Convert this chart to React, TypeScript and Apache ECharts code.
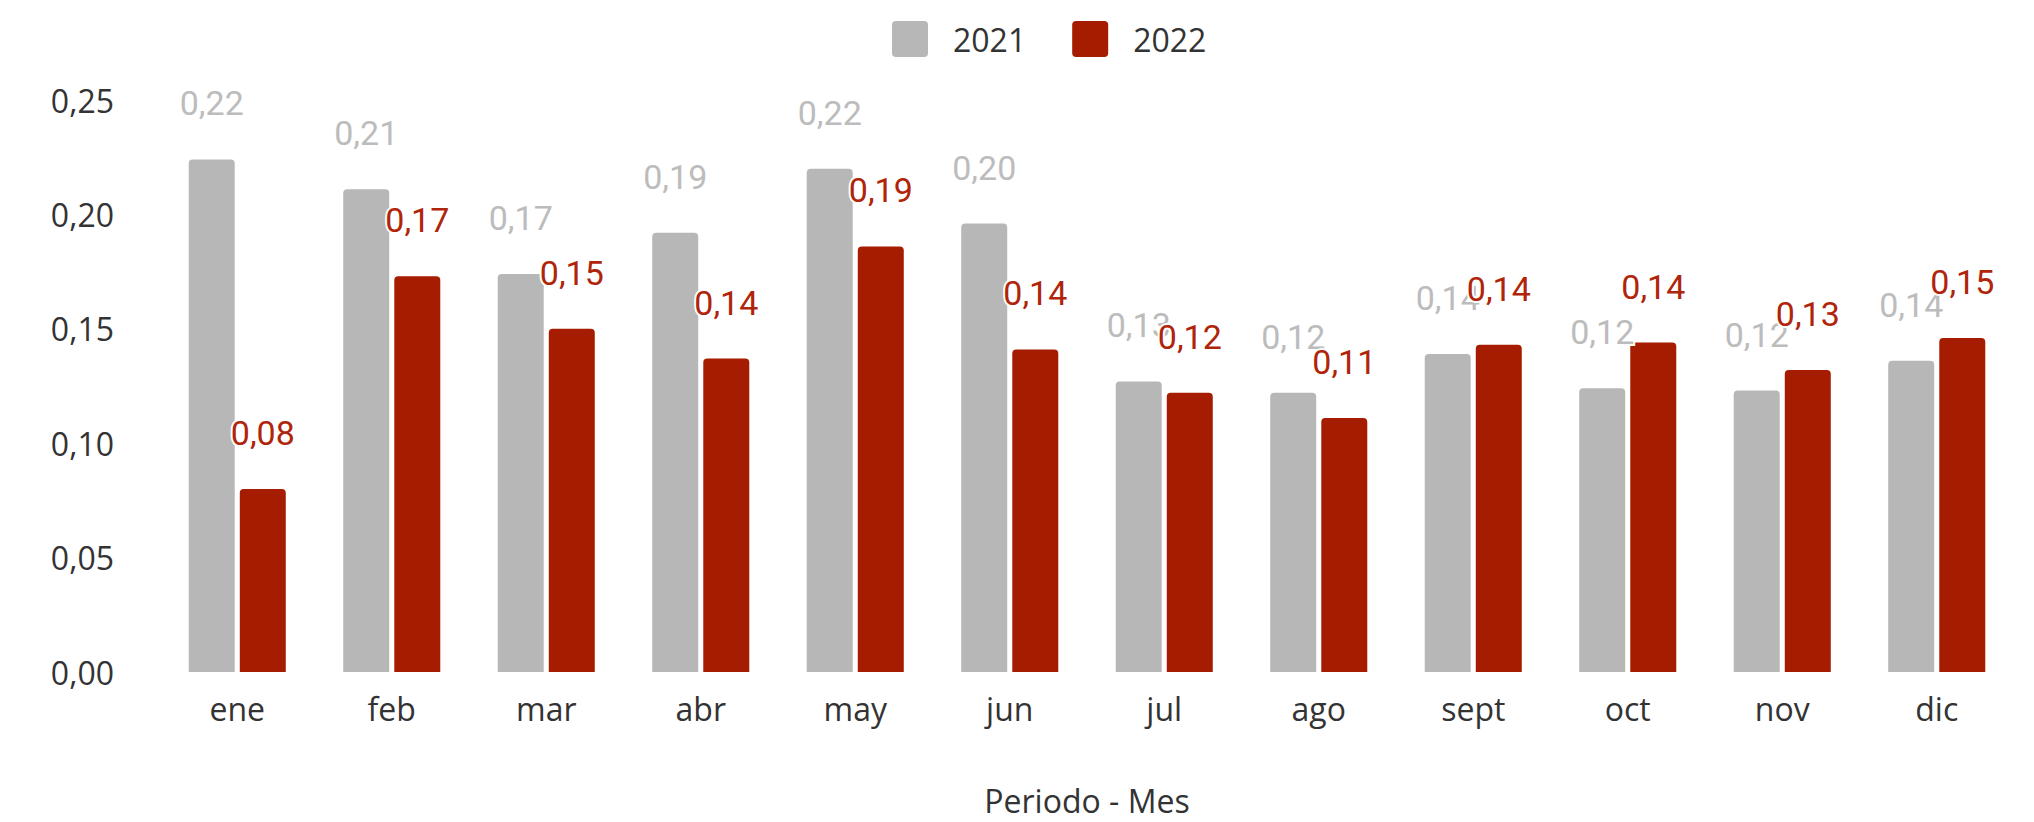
import React, { useEffect, useRef } from "react";
import * as echarts from "echarts";

const categories = ["ene", "feb", "mar", "abr", "may", "jun", "jul", "ago", "sept", "oct", "nov", "dic"];
const values2021 = [0.224, 0.211, 0.174, 0.192, 0.22, 0.196, 0.127, 0.122, 0.139, 0.124, 0.123, 0.136];
const values2022 = [0.08, 0.173, 0.15, 0.137, 0.186, 0.141, 0.122, 0.111, 0.143, 0.144, 0.132, 0.146];
const seriesNames = ["2021", "2022"];

const GRAY = "#b7b7b7";
const RED = "#a51c00";
const fmt = (v: number) => v.toFixed(2).replace(".", ",");
const legendIcon =
  "path://M4,0H32A4,4,0,0,1,36,4V32A4,4,0,0,1,32,36H4A4,4,0,0,1,0,32V4A4,4,0,0,1,4,0Z";

export default function App() {
  const ref = useRef<HTMLDivElement>(null);
  useEffect(() => {
    if (!ref.current) return;
    const chart = echarts.init(ref.current, null, { renderer: "svg" });
    const labelCommon = {
      show: true,
      position: "top",
      distance: 39,
      fontFamily: "Roboto",
      fontSize: 34,
      textBorderColor: "#ffffff",
      textBorderWidth: 4,
      formatter: (p: any) => fmt(p.value),
    };
    chart.setOption({
      animation: false,
      backgroundColor: "#ffffff",
      textStyle: { fontFamily: "Open Sans" },
      grid: { left: 160, right: 20, top: 100, bottom: 150, containLabel: false },
      legend: {
        left: 887,
        top: 16,
        itemWidth: 36,
        itemHeight: 36,
        itemGap: 46,
        icon: legendIcon,
        textStyle: { fontSize: 32, color: "#333333", fontFamily: "Open Sans", padding: [0, 0, 0, 20] },
        data: seriesNames,
      },
      xAxis: {
        type: "category",
        data: categories,
        axisLine: { show: false },
        axisTick: { show: false },
        axisLabel: { fontSize: 32, color: "#333333", margin: 20, fontFamily: "Open Sans" },
        name: "Periodo - Mes",
        nameLocation: "middle",
        nameGap: 112,
        nameTextStyle: { fontSize: 32, color: "#333333", fontFamily: "Open Sans" },
      },
      yAxis: {
        type: "value",
        min: 0,
        max: 0.25,
        interval: 0.05,
        splitLine: { show: false },
        axisLine: { show: false },
        axisTick: { show: false },
        axisLabel: {
          fontSize: 32,
          color: "#333333",
          margin: 46,
          fontFamily: "Open Sans",
          formatter: (v: number) => fmt(v),
        },
      },
      series: [
        {
          name: seriesNames[0],
          type: "bar",
          data: values2021,
          barWidth: 46,
          barGap: "11%",
          itemStyle: { color: GRAY, borderRadius: [4, 4, 0, 0] },
          label: { ...labelCommon, color: "#bcbcbc" },
        },
        {
          name: seriesNames[1],
          type: "bar",
          data: values2022,
          barWidth: 46,
          barGap: "11%",
          itemStyle: { color: RED, borderRadius: [4, 4, 0, 0] },
          label: { ...labelCommon, color: "#b0240a" },
        },
      ],
    });
    return () => chart.dispose();
  }, []);
  return (
    <div
      ref={ref}
      style={{ position: "fixed", left: 0, top: 0, width: 2034, height: 822, background: "#fff" }}
    />
  );
}
